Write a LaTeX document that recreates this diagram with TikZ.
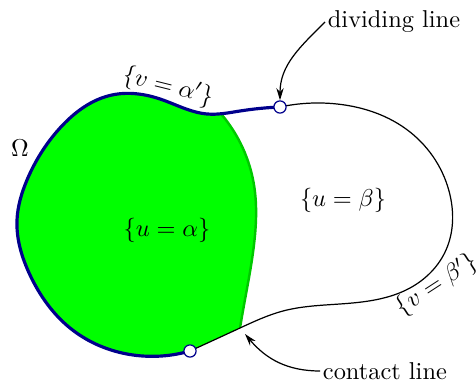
\documentclass[tikz,border=0pt]{standalone}
\usetikzlibrary{arrows.meta,hobby}
\definecolor{bnavy}{RGB}{0,0,140}
\definecolor{gfill}{RGB}{0,255,0}
\definecolor{gedge}{RGB}{0,200,0}
\begin{document}
\begin{tikzpicture}[x=0.41pt,y=-0.41pt,use Hobby shortcut,
  pointmark/.style={circle,draw=bnavy,fill=white,line width=0.5pt,inner sep=0pt,minimum size=5pt},
  callout/.style={-{Stealth[length=5pt,width=3pt]},line width=0.5pt},
  lbl/.style={inner sep=1pt}]
\useasboundingbox (0,0) rectangle (476,383);
% green region
\fill[gfill] (222,115) .. (207,114) .. (160,99) .. (112,95) .. (60,128) .. (27,180) .. (17,220) .. (30,275) .. (70,328) .. (133,355) .. (190,351)
  -- (190,351) .. (240,328)
  -- (240,328) .. (244,305) .. (255,235) .. (254,185) .. (222,115) -- cycle;
\draw[gedge,line width=1pt] (240,328) .. (244,305) .. (255,235) .. (254,185) .. (222,115);
% outer black curve
\draw[line width=0.5pt] (280,107) .. (337,104) .. (410,132) .. (450,195) .. (446,250) .. (410,288) .. (340,304) .. (283,311) .. (240,328) .. (190,351);
% blue boundary
\draw[bnavy,line width=1.3pt] (280,107) .. (240,111) .. (207,114) .. (160,99) .. (112,95) .. (60,128) .. (27,180) .. (17,220) .. (30,275) .. (70,328) .. (133,355) .. (190,351);
% points
\node[pointmark] (d) at (280,107) {};
\node[pointmark] (c) at (190,351) {};
% labels
\node[lbl] (ua) at (167,230) {$\{u=\alpha\}$};
\node[lbl] (ub) at (343,200) {$\{u=\beta\}$};
\node[lbl] (om) at (20,148) {$\Omega$};
\node[lbl,rotate=-14] (va) at (168,87) {$\{v=\alpha'\}$};
\node[lbl,rotate=33] (vb) at (437,285) {$\{v=\beta'\}$};
\node[lbl,anchor=west] (dl) at (325,22) {dividing line};
\node[lbl,anchor=west] (cl) at (320,371) {contact line};
\coordinate (ctip) at (245,334);
\draw[callout] (dl.west) to[out=225,in=90] (d.north);
\draw[callout] (cl.west) to[out=180,in=-50] (ctip);
\end{tikzpicture}
\end{document}
